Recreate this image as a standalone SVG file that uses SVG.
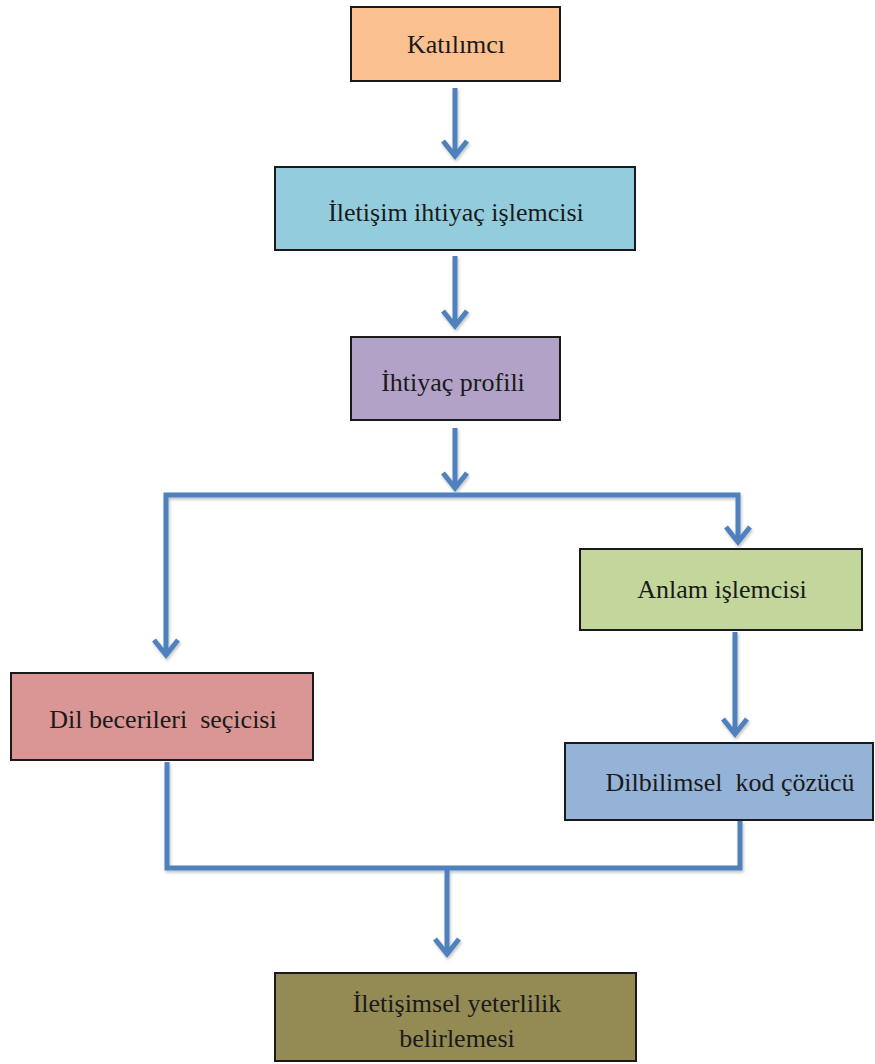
<svg xmlns="http://www.w3.org/2000/svg" width="875" height="1064" viewBox="0 0 875 1064">
<style>
.box{stroke:#1a1a1a;stroke-width:2}
.t{font-family:'Liberation Serif','Times New Roman','DejaVu Serif',serif;font-size:26px;fill:#1a1a1a;text-anchor:middle;white-space:pre}
.c{fill:none;stroke:#4F81BD;stroke-width:5}
</style>
<defs>
<marker id="ah" markerUnits="userSpaceOnUse" markerWidth="40" markerHeight="40" refX="0" refY="0" viewBox="-20 -20 40 40" orient="auto" overflow="visible">
<path d="M -15 -12 L 0 0 L -15 12" fill="none" stroke="#4F81BD" stroke-width="5" stroke-linejoin="miter"/>
</marker>
<filter id="sh" x="-10%" y="-10%" width="120%" height="130%">
<feDropShadow dx="1" dy="2" stdDeviation="1.5" flood-color="#000" flood-opacity="0.25"/>
</filter>
</defs>
<g id="connectors" filter="url(#sh)">
<path class="c" d="M455 88 V156" marker-end="url(#ah)"/>
<path class="c" d="M455 256 V326" marker-end="url(#ah)"/>
<path class="c" d="M455 428 V488" marker-end="url(#ah)"/>
<path class="c" d="M455 495 H738 V542" marker-end="url(#ah)"/>
<path class="c" d="M455 495 H166 V655" marker-end="url(#ah)"/>
<path class="c" d="M735 632 V734" marker-end="url(#ah)"/>
<path class="c" d="M167 762 V868 H740 V821"/>
<path class="c" d="M447 868 V954" marker-end="url(#ah)"/>
</g>
<g id="n1"><rect class="box" x="351" y="7" width="209" height="74" fill="#FAC090"/><text class="t" x="456" y="53">Katılımcı</text></g>
<g id="n2"><rect class="box" x="275" y="167" width="360" height="83" fill="#93CDDD"/><text class="t" x="456" y="221">İletişim ihtiyaç işlemcisi</text></g>
<g id="n3"><rect class="box" x="351" y="337" width="209" height="83" fill="#B3A2C7"/><text class="t" x="453" y="391">İhtiyaç profili</text></g>
<g id="n4"><rect class="box" x="580" y="549" width="282" height="81" fill="#C3D69B"/><text class="t" x="722" y="598">Anlam işlemcisi</text></g>
<g id="n5"><rect class="box" x="11" y="673" width="302" height="87" fill="#D99694"/><text class="t" x="163" y="728">Dil becerileri  seçicisi</text></g>
<g id="n6"><rect class="box" x="565" y="743" width="308" height="77" fill="#95B3D7"/><text class="t" x="730" y="791">Dilbilimsel  kod çözücü</text></g>
<g id="n7"><rect class="box" x="275" y="973" width="361" height="88" fill="#948A54"/><text class="t" x="457" y="1012">İletişimsel yeterlilik</text><text class="t" x="457" y="1047">belirlemesi</text></g>
</svg>
